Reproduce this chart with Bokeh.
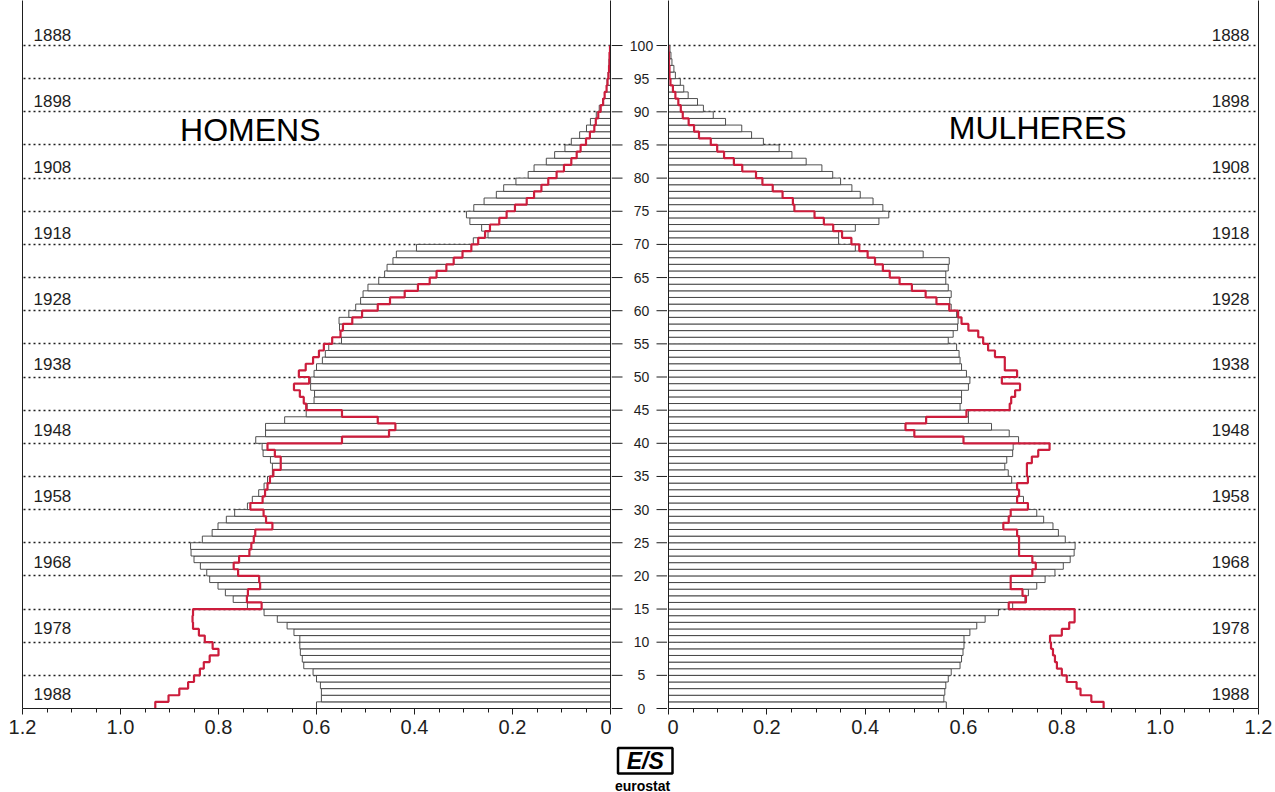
from bokeh.plotting import figure
from bokeh.models import Range1d, LinearAxis, FixedTicker, Grid, CustomJSTickFormatter, Spacer
from bokeh.layouts import row, column
from bokeh.embed import file_html
from bokeh.resources import INLINE
from bokeh.core.properties import value

# ---------------- data (share of population, %, by single year of age 0..99) ----------------
ages = list(range(100))

men_bars = [
    0.600, 0.590, 0.590, 0.592, 0.600, 0.607, 0.626, 0.629, 0.633, 0.634,
    0.634, 0.646, 0.660, 0.680, 0.707, 0.741, 0.770, 0.786, 0.801, 0.818,
    0.824, 0.837, 0.850, 0.856, 0.857, 0.833, 0.813, 0.801, 0.784, 0.767,
    0.741, 0.731, 0.718, 0.707, 0.700, 0.690, 0.690, 0.694, 0.709, 0.711,
    0.724, 0.704, 0.704, 0.665, 0.621, 0.619, 0.605, 0.604, 0.612, 0.612,
    0.605, 0.600, 0.588, 0.582, 0.575, 0.549, 0.551, 0.553, 0.554, 0.534,
    0.520, 0.510, 0.505, 0.495, 0.473, 0.461, 0.456, 0.444, 0.437, 0.396,
    0.280, 0.250, 0.263, 0.287, 0.294, 0.279, 0.258, 0.233, 0.218, 0.193,
    0.168, 0.156, 0.131, 0.114, 0.093, 0.080, 0.063, 0.049, 0.041, 0.029,
    0.023, 0.016, 0.012, 0.008, 0.007, 0.005, 0.004, 0.003, 0.002, 0.001,
]

men_line = [
    0.929, 0.902, 0.880, 0.862, 0.850, 0.838, 0.830, 0.818, 0.800, 0.812,
    0.828, 0.840, 0.852, 0.853, 0.852, 0.712, 0.742, 0.740, 0.715, 0.717,
    0.760, 0.769, 0.758, 0.737, 0.733, 0.728, 0.725, 0.690, 0.703, 0.708,
    0.735, 0.710, 0.705, 0.700, 0.695, 0.688, 0.673, 0.673, 0.685, 0.700,
    0.548, 0.452, 0.439, 0.475, 0.548, 0.621, 0.626, 0.634, 0.646, 0.615,
    0.636, 0.622, 0.607, 0.595, 0.585, 0.568, 0.551, 0.546, 0.527, 0.507,
    0.475, 0.450, 0.420, 0.393, 0.369, 0.355, 0.335, 0.320, 0.302, 0.284,
    0.270, 0.256, 0.246, 0.227, 0.212, 0.195, 0.171, 0.156, 0.141, 0.127,
    0.110, 0.095, 0.080, 0.069, 0.061, 0.050, 0.042, 0.033, 0.030, 0.025,
    0.020, 0.015, 0.012, 0.008, 0.006, 0.004, 0.003, 0.002, 0.002, 0.001,
]

women_bars = [
    0.565, 0.560, 0.562, 0.564, 0.569, 0.575, 0.593, 0.596, 0.599, 0.601,
    0.601, 0.613, 0.627, 0.644, 0.671, 0.700, 0.725, 0.732, 0.749, 0.766,
    0.786, 0.803, 0.817, 0.825, 0.827, 0.807, 0.793, 0.782, 0.763, 0.749,
    0.732, 0.722, 0.712, 0.708, 0.698, 0.691, 0.684, 0.688, 0.700, 0.701,
    0.712, 0.693, 0.657, 0.610, 0.610, 0.593, 0.596, 0.596, 0.610, 0.613,
    0.606, 0.596, 0.593, 0.591, 0.586, 0.569, 0.579, 0.588, 0.589, 0.586,
    0.575, 0.572, 0.575, 0.569, 0.564, 0.564, 0.569, 0.571, 0.518, 0.380,
    0.346, 0.346, 0.380, 0.428, 0.448, 0.436, 0.416, 0.390, 0.373, 0.350,
    0.334, 0.312, 0.280, 0.251, 0.225, 0.193, 0.169, 0.149, 0.116, 0.091,
    0.071, 0.059, 0.040, 0.031, 0.024, 0.014, 0.011, 0.007, 0.005, 0.003,
]

women_line = [
    0.885, 0.860, 0.838, 0.830, 0.810, 0.800, 0.790, 0.786, 0.782, 0.778,
    0.776, 0.800, 0.815, 0.826, 0.826, 0.692, 0.727, 0.720, 0.696, 0.696,
    0.740, 0.747, 0.740, 0.713, 0.713, 0.713, 0.709, 0.681, 0.692, 0.696,
    0.731, 0.709, 0.713, 0.709, 0.731, 0.729, 0.729, 0.739, 0.752, 0.775,
    0.600, 0.500, 0.482, 0.524, 0.606, 0.694, 0.697, 0.705, 0.715, 0.678,
    0.709, 0.684, 0.684, 0.664, 0.650, 0.640, 0.630, 0.610, 0.596, 0.589,
    0.571, 0.545, 0.523, 0.495, 0.470, 0.450, 0.436, 0.420, 0.405, 0.388,
    0.372, 0.353, 0.335, 0.316, 0.297, 0.256, 0.253, 0.232, 0.212, 0.191,
    0.178, 0.150, 0.133, 0.113, 0.099, 0.086, 0.062, 0.052, 0.041, 0.029,
    0.025, 0.020, 0.014, 0.009, 0.004, 0.002, 0.002, 0.001, 0.001, 0.000,
]

age_ticks = [0, 5, 10, 15, 20, 25, 30, 35, 40, 45, 50, 55, 60, 65, 70, 75, 80, 85, 90, 95, 100]
grid_ages = [5, 10, 15, 20, 25, 30, 35, 40, 45, 50, 55, 60, 65, 70, 75, 80, 85, 90, 95, 100]
year_labels = ["1888", "1898", "1908", "1918", "1928", "1938", "1948", "1958", "1968", "1978", "1988"]
year_ages = [100, 90, 80, 70, 60, 50, 40, 30, 20, 10, 0]
x_ticks = [0.0, 0.2, 0.4, 0.6, 0.8, 1.0, 1.2]
x_minor = [0.05, 0.1, 0.15, 0.25, 0.3, 0.35, 0.45, 0.5, 0.55, 0.65, 0.7, 0.75,
           0.85, 0.9, 0.95, 1.05, 1.1, 1.15]
titles = ["HOMENS", "MULHERES"]

# ---------------- style / geometry ----------------
FONT = "Liberation Sans"
RED = "#cc1d3c"
BAR_LINE = "#3c3c3c"
INK = "#1e1e1e"
FRAME_H = 708
Y_TOP = 106.79          # frame top (age units); age 100 sits 45 px below it
BOTTOM = 36
PX = FRAME_H / Y_TOP
L_FRAME_W = 588
R_FRAME_W = 590
MID_W = 56


def staircase(vals):
    xs, ys = [], []
    for a, v in zip(ages, vals):
        xs += [v, v]
        ys += [a, a + 1]
    return xs, ys


def spine(side, p):
    sp = LinearAxis(ticker=FixedTicker(ticks=[]))
    sp.axis_line_color = INK
    sp.major_tick_in = 0
    sp.major_tick_out = 0
    sp.minor_tick_in = 0
    sp.minor_tick_out = 0
    sp.major_label_standoff = 0
    p.add_layout(sp, side)


def make_panel(x_range, frame_w, bars, line_vals, title, title_x, title_y, year_x, year_align,
               border_left, border_right):
    p = figure(frame_width=frame_w, frame_height=FRAME_H,
               x_range=x_range, y_range=Range1d(0, Y_TOP),
               output_backend="svg", toolbar_location=None,
               x_axis_location=None, y_axis_location=None,
               min_border_left=border_left, min_border_right=border_right,
               min_border_top=0, min_border_bottom=BOTTOM,
               background_fill_color="white", border_fill_color="white")
    p.outline_line_color = None
    p.grid.visible = False

    xa = LinearAxis(ticker=FixedTicker(ticks=x_ticks, minor_ticks=x_minor),
                    formatter=CustomJSTickFormatter(code="return tick == 0 ? '0' : tick.toFixed(1);"))
    xa.axis_line_color = INK
    xa.major_tick_line_color = INK
    xa.minor_tick_line_color = INK
    xa.major_tick_in = 0
    xa.major_tick_out = 6
    xa.minor_tick_in = 0
    xa.minor_tick_out = 4
    xa.major_label_standoff = 5
    xa.major_label_text_font = FONT
    xa.major_label_text_font_size = "20px"
    xa.major_label_text_color = INK
    p.add_layout(xa, "below")

    spine("left", p)
    spine("right", p)

    g = Grid(dimension=1, ticker=FixedTicker(ticks=grid_ages))
    g.grid_line_color = INK
    g.grid_line_dash = "2 3"
    g.grid_line_width = 1.6
    p.add_layout(g)

    centers = [a + 0.5 for a in ages]
    p.hbar(y=centers, height=1, left=0, right=bars,
           fill_color="white", line_color=BAR_LINE, line_width=0.9)

    xs, ys = staircase(line_vals)
    p.line(xs, ys, line_color=RED, line_width=2.2)

    ylab = [a + 0.65 + (100 - a) * 0.007 for a in year_ages]
    p.text(x=[year_x] * len(year_labels), y=ylab, text=year_labels,
           text_font=value(FONT), text_font_size="17px", text_color=INK,
           text_align=year_align, text_baseline="bottom")

    p.text(x=[title_x], y=[title_y], text=[title],
           text_font=value(FONT), text_font_size="32px", text_color="black",
           text_align="center", text_baseline="middle")
    return p


left = make_panel(Range1d(1.2, 0), L_FRAME_W, men_bars, men_line, titles[0], 0.735, 87.2,
                  1.2 - 11 / (L_FRAME_W / 1.2), "left", 22, 1)
right = make_panel(Range1d(0, 1.2), R_FRAME_W, women_bars, women_line, titles[1], 0.751, 87.5,
                   1.2 - 9 / (R_FRAME_W / 1.2), "right", 1, 16)

# middle strip: age ticks on both inner spines and the centred age labels
mid_h = FRAME_H + BOTTOM
mid = figure(width=MID_W, height=mid_h, x_range=Range1d(0, MID_W),
             y_range=Range1d(-BOTTOM / PX, Y_TOP),
             output_backend="svg", toolbar_location=None,
             x_axis_location=None, y_axis_location=None,
             min_border=0, min_border_left=0, min_border_right=0,
             min_border_top=0, min_border_bottom=0)
mid.frame_align = False
mid.outline_line_color = None
mid.grid.visible = False
n = len(age_ticks)
mid.segment(x0=[0] * n, x1=[11] * n, y0=age_ticks, y1=age_ticks, line_color=INK, line_width=1)
mid.segment(x0=[MID_W - 11] * n, x1=[MID_W] * n, y0=age_ticks, y1=age_ticks, line_color=INK, line_width=1)
mid.text(x=[MID_W / 2 + 2] * n, y=age_ticks, text=[str(a) for a in age_ticks],
         text_font=value(FONT), text_font_size="14px", text_color=INK,
         text_align="center", text_baseline="middle")

# eurostat logo
LOGO_H = 48
logo = figure(width=66, height=LOGO_H, x_range=Range1d(0, 66), y_range=Range1d(0, LOGO_H),
              output_backend="svg", toolbar_location=None,
              x_axis_location=None, y_axis_location=None,
              min_border=0, min_border_left=0, min_border_right=0,
              min_border_top=0, min_border_bottom=0)
logo.frame_align = False
logo.outline_line_color = None
logo.grid.visible = False
logo.quad(left=[8.5], right=[63], bottom=[19], top=[44.5], fill_color=None,
          line_color="black", line_width=2.5)
logo.text(x=[35.7], y=[31.7], text=["E/S"], text_font=value(FONT),
          text_font_size="23px", text_font_style="bold italic", text_color="black",
          text_align="center", text_baseline="middle")
logo.text(x=[33], y=[7], text=["eurostat"], text_font=value(FONT),
          text_font_size="14px", text_font_style="bold", text_color="black",
          text_align="center", text_baseline="alphabetic")

layout = column(row(left, mid, right, spacing=0),
                row(Spacer(width=609, height=LOGO_H), logo, spacing=0),
                spacing=0)

open("out.html", "w").write(file_html(layout, INLINE))
